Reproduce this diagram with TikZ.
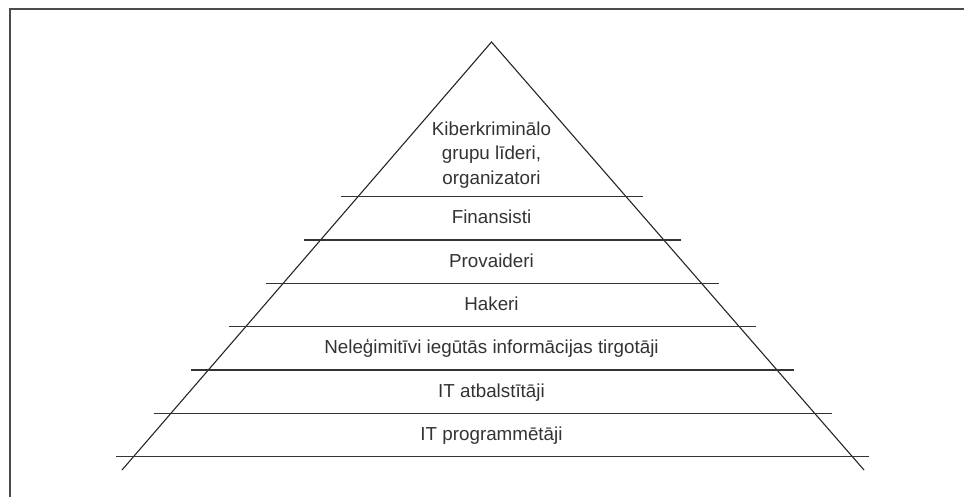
\documentclass[tikz,border=0pt]{standalone}
\usepackage{fontspec}
\setmainfont{Liberation Sans}
\usetikzlibrary{calc}

\begin{document}
\begin{tikzpicture}[x=1pt, y=-1pt,
  lvl/.style={font=\fontsize{18.8}{24.5}\selectfont, text=black!80, anchor=base, inner sep=0pt},
  side/.style={line width=1.1pt, black!85},
  tier/.style={line width=1.2pt, black!80}]
\useasboundingbox (0,0) rectangle (964,497);
\draw[black!70, line width=2pt] (10,497) -- (10,9) -- (964,9);
\coordinate (apex) at (491.5,42);
\coordinate (bl) at (122,470);
\coordinate (br) at (864,470);
\draw[side] (bl) -- (apex) -- (br);
\foreach \t in {0.3614,0.4626,0.5640,0.6652,0.7664,0.8678,0.9689} {
  \draw[tier] ($(apex)!\t!(bl)+(-17,0)$) -- ($(apex)!\t!(br)+(17,0)$);
}
\node[lvl, align=center] (lideri) at (491.5,184.5) {Kiberkriminālo\\grupu līderi,\\organizatori};
\foreach \y/\n/\l in {223.9/finansisti/Finansisti, 267.2/provaideri/Provaideri, 310.5/hakeri/Hakeri,
  353.9/tirgotaji/Neleģimitīvi iegūtās informācijas tirgotāji, 397.2/atbalstitaji/IT atbalstītāji,
  440.5/programmetaji/IT programmētāji} {
  \node[lvl] (\n) at (491.5,\y) {\l};
}
\end{tikzpicture}
\end{document}
